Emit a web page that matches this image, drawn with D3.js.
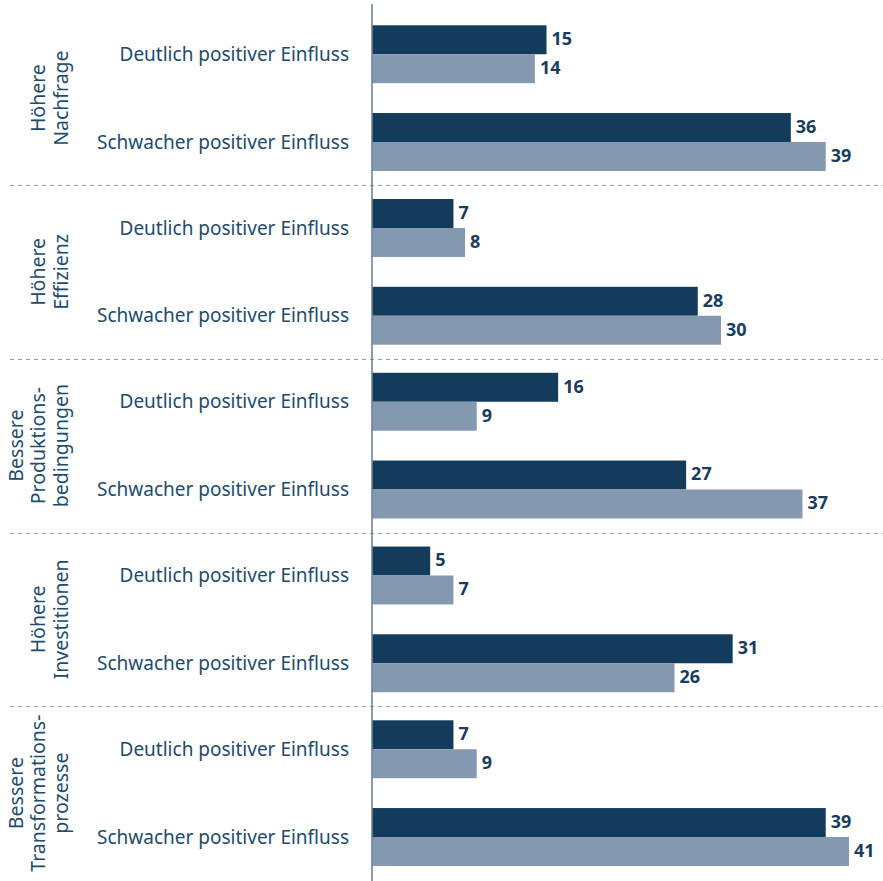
<!DOCTYPE html>
<html>
<head>
<meta charset="utf-8">
<script src="https://cdn.jsdelivr.net/npm/d3@7"></script>
<style>
  body { margin: 0; background: #fff; }
  svg { display: block; font-family: "Source Sans Pro", "Noto Sans", sans-serif; }
</style>
</head>
<body>
<div id="chart"></div>
<script>
const groups = ["Höhere Nachfrage", "Höhere Effizienz", "Bessere Produktionsbedingungen", "Höhere Investitionen", "Bessere Transformationsprozesse"];
const groupLines = [
  ["Höhere", "Nachfrage"],
  ["Höhere", "Effizienz"],
  ["Bessere", "Produktions-", "bedingungen"],
  ["Höhere", "Investitionen"],
  ["Bessere", "Transformations-", "prozesse"]
];
const categories = ["Deutlich positiver Einfluss", "Schwacher positiver Einfluss"];
const seriesNames = ["Reihe 1", "Reihe 2"];
// values per group, in category order
const series1 = [15, 36, 7, 28, 16, 27, 5, 31, 7, 39];
const series2 = [14, 39, 8, 30, 9, 37, 7, 26, 9, 41];
const seriesColors = ["#133b5c", "#8499b0"];

const width = 883, height = 881;
const svg = d3.select("#chart").append("svg").attr("width", width).attr("height", height);

const rows = [];
groups.forEach((g, gi) => categories.forEach((c, ci) => {
  const k = gi * categories.length + ci;
  rows.push({ group: g, category: c, values: [series1[k], series2[k]] });
}));

const x = d3.scaleLinear().domain([0, 41]).range([372, 849]);
const yGroup = d3.scaleBand().domain(groups).range([11.25, 880]);
const yCat = d3.scaleBand().domain(categories).range([0, yGroup.bandwidth()]).paddingInner(0.34).paddingOuter(0.16);
const ySer = d3.scaleBand().domain(seriesNames).range([0, yCat.bandwidth()]);

// dashed separators between groups
svg.append("g").selectAll("line").data(groups.slice(1)).join("line")
  .attr("x1", 10).attr("x2", width)
  .attr("y1", d => Math.round(yGroup(d)) + 0.5).attr("y2", d => Math.round(yGroup(d)) + 0.5)
  .attr("stroke", "#8ea2b6").attr("stroke-width", 1).attr("stroke-dasharray", "4,4");

const rowG = svg.append("g").selectAll("g").data(rows).join("g")
  .attr("transform", d => `translate(0,${yGroup(d.group) + yCat(d.category)})`);

rowG.selectAll("rect").data(d => d.values.map((v, i) => ({ v, s: seriesNames[i], i }))).join("rect")
  .attr("x", x(0))
  .attr("y", d => ySer(d.s))
  .attr("width", d => x(d.v) - x(0))
  .attr("height", ySer.bandwidth())
  .attr("fill", d => seriesColors[d.i]);

rowG.selectAll("text.val").data(d => d.values.map((v, i) => ({ v, s: seriesNames[i] }))).join("text")
  .attr("class", "val")
  .attr("x", d => x(d.v) + 5)
  .attr("y", d => ySer(d.s) + ySer.bandwidth() / 2 - 1)
  .attr("dy", "0.36em")
  .attr("font-size", 18).attr("font-weight", 700)
  .attr("fill", "#1a3d5e")
  .text(d => d.v);

// category labels
rowG.append("text")
  .attr("x", 349)
  .attr("y", yCat.bandwidth() / 2)
  .attr("dy", "0.35em")
  .attr("text-anchor", "end")
  .attr("font-size", 19)
  .attr("fill", "#224b6c")
  .text(d => d.category);

// group labels (rotated)
groups.forEach((g, gi) => {
  const lines = groupLines[gi];
  const cy = yGroup(g) + yGroup.bandwidth() / 2;
  const t = svg.append("text")
    .attr("transform", `translate(0,${cy}) rotate(-90)`)
    .attr("text-anchor", "middle")
    .attr("font-size", 19.5)
    .attr("fill", "#224b6c");
  lines.forEach((l, li) => {
    const xc = 61 - (lines.length - 1 - li) * 22.5;
    t.append("tspan").attr("x", 0).attr("y", xc).attr("dy", "0.35em").text(l);
  });
});

// vertical axis line
svg.append("line")
  .attr("x1", x(0)).attr("x2", x(0))
  .attr("y1", 4).attr("y2", height)
  .attr("stroke", "#6f8499").attr("stroke-width", 1.6);
</script>
</body>
</html>
